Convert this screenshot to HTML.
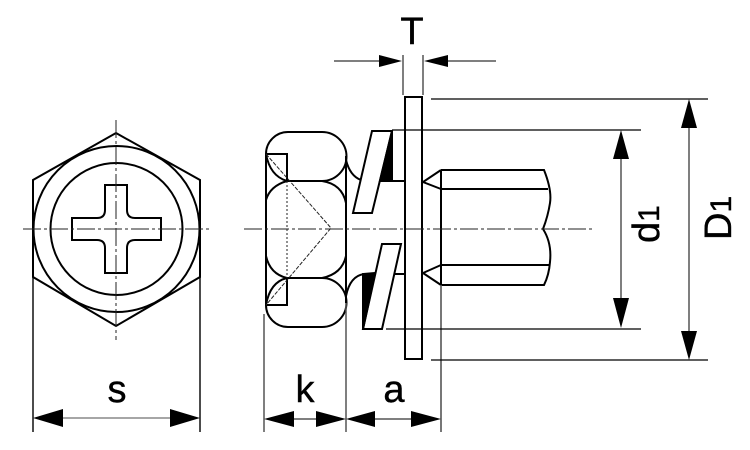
<!DOCTYPE html>
<html><head><meta charset="utf-8"><style>
html,body{margin:0;padding:0;background:#fff}
svg{display:block}
text{font-family:"Liberation Sans",sans-serif;fill:#000;stroke:#000;stroke-width:.4}
</style></head><body>
<svg width="750" height="450" viewBox="0 0 750 450" xmlns="http://www.w3.org/2000/svg">
<g fill="none" stroke="#000" stroke-width="2">
<!-- hex view -->
<polygon points="116,133 200,180 200,277 116,326 33,277 33,180"/>
<circle cx="116.500" cy="229" r="83"/>
<circle cx="116.500" cy="229" r="66"/>
<path d="M105,185H127V210Q127,218 135,218H161V240H135Q127,240 127,248V273H105V248Q105,240 97,240H72V218H97Q105,218 105,210Z"/>
<path d="M33,277V432M200,277V432" stroke-width="1.400"/>
<!-- head -->
<path d="M266,154A22,22 0 0 1 288,132H322A24.500,24.500 0 0 1 322,181H287"/>
<path d="M266,154H287V181"/>
<path d="M266,154Q270,176 287,181Q270,186 266,200"/>
<path d="M322,181Q342,184 346,203"/>
<path d="M266,154V305M346,156V303"/>
<path d="M266,256Q270,274 287,278H322Q342,274 346,256"/>
<path d="M287,278Q270,282 266,305A22,22 0 0 0 288,327H322A24.500,24.500 0 0 0 322,278"/>
<path d="M266,305H287V278"/>
<!-- neck curves -->
<path d="M346,160Q350,176 361,180"/>
<path d="M346,296Q350,276 364,274H375"/>
<!-- spring washer -->
<polygon points="372,131 392,131 372,213 353,213"/>
<polygon points="382,244 401,244 382,329 363,329"/>
<polygon points="392,131 392,181 380,181" fill="#000"/>
<polygon points="363,329 363,274 375,273" fill="#000"/>
<path d="M392,181H405M395,274H405"/>
<!-- flat washer -->
<rect x="405" y="97" width="17" height="262"/>
<!-- shaft -->
<path d="M441,170L423,182L441,189M441,265L423,273L441,285"/>
<path d="M441,170H544Q552,190 550,203Q548,216 543,229Q552,243 550,262Q549,275 544,285H441"/>
<path d="M441,189H548M441,265H549M441,170V285"/>
<path d="M441,285V432" stroke="#555" stroke-width="1.600"/>
</g>
<!-- hidden/dashed -->
<g fill="none" stroke="#222" stroke-width="1">
<path d="M266,154L331,228L266,305" stroke-dasharray="4 1.500"/>
<path d="M287,181V278" stroke-dasharray="2 2"/>
<path d="M23,229H210M116,120V340M244,229H592" stroke-dasharray="18 3 3 3"/>
</g>
<!-- dimension lines -->
<g fill="none" stroke="#555" stroke-width="1.500">
<path d="M403,55V95M423,55V95M334,61H380M447,61H496"/>
<path d="M621,158V300M689,126V333"/>
<path d="M264,314V432M346,303V432"/>
<path d="M60,418H172" stroke="#888"/>
<path d="M292,419H318M372,419H414"/>
</g>
<g fill="none" stroke="#000" stroke-width="1.200">
<path d="M431,99H708M392,130H641M386,329H641M431,360H708"/>
</g>
<!-- arrowheads -->
<g fill="#000">
<polygon points="402,61 379,55 379,67"/>
<polygon points="424,61 448,55 448,67"/>
<polygon points="621,130 613,159 629,159"/>
<polygon points="621,328 613,298 629,298"/>
<polygon points="689,99 681,128 697,128"/>
<polygon points="689,360 681,331 697,331"/>
<polygon points="33,418 63,409 63,427"/>
<polygon points="200,418 170,409 170,427"/>
<polygon points="264,419 294,411 294,427"/>
<polygon points="346,419 316,411 316,427"/>
<polygon points="346,419 375,411 375,427"/>
<polygon points="441,419 411,411 411,427"/>
</g>
<!-- labels -->
<text x="117" y="402" font-size="38" text-anchor="middle">s</text>
<text x="305" y="402" font-size="38" text-anchor="middle">k</text>
<text x="394" y="402" font-size="38" text-anchor="middle">a</text>
<text x="412" y="44" font-size="38" text-anchor="middle">T</text>
<text transform="translate(659,243) rotate(-90)" font-size="38">d<tspan font-size="30">1</tspan></text>
<text transform="translate(731,240) rotate(-90)" font-size="38">D<tspan font-size="30">1</tspan></text>
</svg>
</body></html>
